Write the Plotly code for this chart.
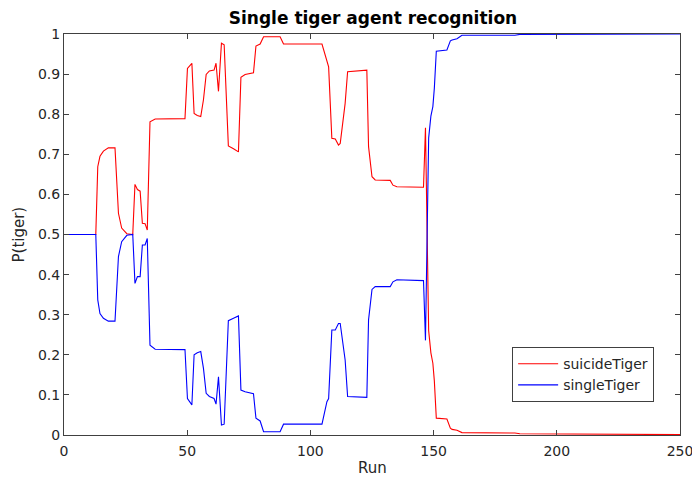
import plotly.graph_objects as go

runs = [0, 12.9, 13.7, 14.6, 16.0, 18.0, 20.7, 21.4, 22.1, 23.4, 25.5, 27.9,
        28.8, 29.8, 30.9, 31.8, 32.9, 33.8, 34.9, 37.0, 49.1, 50.1, 51.9,
        52.8, 54.1, 55.5, 56.6, 57.7, 59.0, 60.9, 61.7, 62.7, 63.9, 65.0,
        66.7, 68.8, 70.8, 71.8, 73.5, 76.9, 77.9, 79.6, 81.0, 87.7, 89.1,
        104.7, 106.7, 107.4, 108.7, 110.1, 111.4, 112.1, 114.1, 115.1, 122.9,
        123.6, 125.0, 126.3, 132.4, 133.5, 135.1, 145.9, 146.7, 148.0, 148.9,
        149.7, 150.3, 151.1, 155.4, 156.8, 157.5, 159.5, 161.5, 183.0, 185.0,
        250]

suicide_tiger = [0.500, 0.500, 0.669, 0.695, 0.708, 0.716, 0.716, 0.619, 0.553,
                 0.516, 0.502, 0.500, 0.625, 0.612, 0.608, 0.528, 0.527, 0.511,
                 0.781, 0.788, 0.789, 0.914, 0.927, 0.802, 0.797, 0.794, 0.836,
                 0.899, 0.908, 0.910, 0.927, 0.857, 0.977, 0.973, 0.721, 0.714,
                 0.706, 0.892, 0.899, 0.903, 0.970, 0.975, 0.993, 0.993, 0.975,
                 0.975, 0.931, 0.918, 0.740, 0.738, 0.723, 0.727, 0.827, 0.906,
                 0.910, 0.719, 0.644, 0.636, 0.635, 0.623, 0.619, 0.618, 0.766,
                 0.260, 0.205, 0.179, 0.135, 0.042, 0.040, 0.017, 0.014, 0.012,
                 0.006, 0.005, 0.003, 0.001]

single_tiger = [0.500, 0.500, 0.337, 0.303, 0.291, 0.284, 0.284, 0.387, 0.445,
                0.482, 0.498, 0.500, 0.378, 0.395, 0.395, 0.474, 0.474, 0.490,
                0.224, 0.214, 0.213, 0.091, 0.075, 0.200, 0.205, 0.208, 0.166,
                0.104, 0.096, 0.091, 0.077, 0.145, 0.025, 0.027, 0.285, 0.291,
                0.297, 0.112, 0.108, 0.103, 0.042, 0.035, 0.008, 0.008, 0.027,
                0.027, 0.083, 0.091, 0.262, 0.262, 0.278, 0.278, 0.187, 0.096,
                0.094, 0.287, 0.363, 0.370, 0.370, 0.382, 0.387, 0.385, 0.236,
                0.741, 0.795, 0.819, 0.865, 0.957, 0.960, 0.983, 0.985, 0.988,
                0.997, 0.997, 0.999, 1.000]

x_ticks = [0, 50, 100, 150, 200, 250]
y_ticks = [0, 0.1, 0.2, 0.3, 0.4, 0.5, 0.6, 0.7, 0.8, 0.9, 1]

font = "DejaVu Sans"
axis_col = "#404040"
text_col = "#262626"

fig = go.Figure()
fig.add_trace(go.Scatter(x=runs, y=suicide_tiger, mode="lines", name="suicideTiger",
                         line=dict(color="#ff0000", width=1.1)))
fig.add_trace(go.Scatter(x=runs, y=single_tiger, mode="lines", name="singleTiger",
                         line=dict(color="#0000ff", width=1.1)))

fig.update_layout(
    width=692, height=479,
    margin=dict(l=64, r=12, t=34, b=44, autoexpand=False),
    paper_bgcolor="white", plot_bgcolor="white",
    font=dict(family=font, size=14, color=text_col),
    title=dict(text="<b>Single tiger agent recognition</b>", x=0.539, xanchor="center",
               y=1 - 18 / 479, yanchor="middle", font=dict(family=font, size=17, color="#000")),
    legend=dict(x=0.958, y=0.082, xanchor="right", yanchor="bottom",
                bgcolor="white", bordercolor=axis_col, borderwidth=1,
                font=dict(family=font, size=14, color=text_col),
                tracegroupgap=0, itemwidth=40),
    showlegend=True,
    annotations=[
        dict(text="Run", xref="paper", yref="paper", x=0.5, y=-(468 - 435) / 401,
             xanchor="center", yanchor="middle", showarrow=False,
             font=dict(family=font, size=15, color=text_col)),
        dict(text="P(tiger)", xref="paper", yref="paper", x=-(64 - 18) / 616, y=0.5,
             xanchor="center", yanchor="middle", showarrow=False, textangle=-90,
             font=dict(family=font, size=15, color=text_col)),
    ],
)
fig.update_xaxes(range=[0, 250], tickvals=x_ticks, ticks="inside", ticklen=5,
                 showline=True, linecolor=axis_col, linewidth=1, mirror="ticks",
                 tickcolor=axis_col, showgrid=False, zeroline=False, automargin=False,
                 ticklabelstandoff=3, ticklabeloverflow="allow")
fig.update_yaxes(range=[0, 1], tickvals=y_ticks, ticks="inside", ticklen=5,
                 showline=True, linecolor=axis_col, linewidth=1, mirror="ticks",
                 tickcolor=axis_col, showgrid=False, zeroline=False, automargin=False,
                 ticklabeloverflow="allow")

fig.write_html("out.html", config={"displayModeBar": False},
               post_script="document.body.style.margin='0';")
